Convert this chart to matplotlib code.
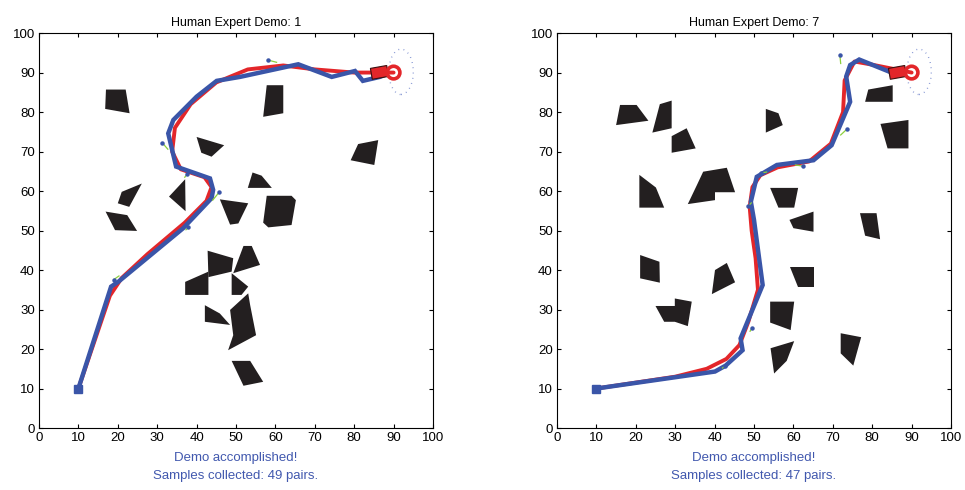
import matplotlib
matplotlib.use("Agg")
import matplotlib.pyplot as plt
from matplotlib.patches import Polygon, Circle, Ellipse, Rectangle

plt.rcParams["font.family"] = ["Liberation Sans", "DejaVu Sans"]

# ---- data: demo 1 ----
demo1_obstacles = [
    [(17, 85.7), (22, 85.7), (23, 79.7), (16.8, 80.8)],
    [(40.0, 73.7), (47.0, 71.6), (43.8, 68.7), (41.2, 69.7)],
    [(21.0, 59.8), (26.1, 61.9), (22.9, 56.0), (20.0, 56.9)],
    [(37.1, 63.0), (37.2, 54.9), (33.0, 58.6)],
    [(16.9, 54.8), (22.4, 53.9), (24.9, 49.9), (19.3, 50.1)],
    [(45.9, 57.9), (53.1, 56.9), (50.6, 51.8), (48.5, 51.5)],
    [(57.8, 86.8), (62.0, 86.8), (62.0, 79.7), (56.9, 78.8)],
    [(81.0, 71.9), (86.1, 72.9), (85.1, 66.6), (79.1, 67.8)],
    [(54.2, 64.7), (56.5, 63.9), (59.1, 60.8), (53.0, 60.8)],
    [(57.8, 58.8), (64.1, 58.8), (65.2, 57.7), (64.1, 51.4), (58.2, 50.8), (56.9, 52.0)],
    [(42.8, 44.9), (49.3, 43.0), (48.9, 39.6), (43.0, 38.2)],
    [(37.1, 37.0), (43.0, 39.6), (43.0, 33.7), (37.1, 33.7)],
    [(51.9, 46.1), (54.0, 46.1), (56.1, 41.3), (49.3, 39.2)],
    [(48.9, 39.2), (53.1, 35.8), (51.4, 33.7), (48.9, 33.7)],
    [(42.1, 31.1), (45.9, 29.0), (48.5, 26.1), (42.1, 26.9)],
    [(48.5, 29.9), (53.1, 34.1), (53.6, 31.1), (55.1, 23.5), (48.0, 19.7), (49.3, 23.5)],
    [(48.9, 17.0), (53.6, 17.0), (56.9, 11.7), (51.9, 10.7)],
]
demo1_blue_x = [10, 18.3, 20.1, 36.6, 43.8, 44.2, 43.4, 34.8, 32.8, 34.1, 40.0, 45.1, 51.0, 65.8, 74.3, 80.2, 82.2, 86.5, 88.0]
demo1_blue_y = [10, 35.8, 37.0, 50.6, 58.2, 60.3, 63.2, 66.2, 74.6, 78.0, 83.9, 87.9, 88.9, 92.1, 88.9, 90.4, 87.9, 88.9, 89.5]
demo1_red_x = [10, 18.0, 21.0, 27.5, 37.0, 42.5, 43.8, 42.0, 36.0, 33.8, 34.5, 38.5, 45.0, 53.0, 62.0, 70.0, 80.0, 90.0]
demo1_red_y = [10, 33.5, 38.0, 44.0, 52.0, 57.5, 61.0, 63.5, 65.5, 70.0, 76.0, 82.0, 87.5, 90.8, 91.8, 90.8, 90.0, 90.0]
demo1_hint_dots = [(31.3, 72.2), (45.8, 59.8), (37.6, 64.3), (37.9, 50.8), (58.0, 93.2), (19.0, 37.6)]
demo1_hint_ends = [(32.7, 70.6), (44.1, 57.7), (37.0, 63.5), (37.3, 50.2), (60.3, 92.6), (20.3, 38.5)]

# ---- data: demo 7 ----
demo7_obstacles = [
    [(16.0, 81.8), (20.2, 81.8), (23.2, 77.8), (15.0, 76.7)],
    [(26.1, 82.0), (29.1, 82.9), (29.1, 75.9), (24.2, 74.8)],
    [(29.1, 73.9), (32.9, 75.9), (35.2, 70.8), (29.1, 69.7)],
    [(20.9, 64.1), (25.1, 60.9), (27.2, 55.8), (20.9, 55.8)],
    [(37.1, 64.9), (43.1, 65.9), (45.2, 59.7), (40.1, 59.7), (40.1, 57.7), (33.2, 56.7), (35.5, 61.5)],
    [(53.0, 80.8), (56.2, 79.7), (57.3, 76.7), (53.0, 74.8)],
    [(79.0, 85.7), (85.2, 86.8), (85.2, 82.6), (78.2, 82.6)],
    [(82.1, 77.0), (89.2, 78.0), (89.2, 70.8), (83.9, 70.8)],
    [(54.1, 60.8), (61.2, 60.8), (60.2, 55.8), (56.2, 55.8)],
    [(59.0, 52.7), (65.1, 54.8), (65.1, 49.7), (60.0, 50.6)],
    [(76.9, 54.4), (81.1, 54.4), (82.0, 47.8), (78.2, 48.7)],
    [(59.1, 40.8), (65.2, 40.8), (65.2, 35.8), (61.2, 35.8)],
    [(54.1, 32.0), (60.2, 32.0), (59.3, 24.8), (54.1, 26.7)],
    [(54.2, 20.2), (60.2, 22.0), (58.3, 17.0), (55.1, 13.8)],
    [(72.0, 24.0), (77.2, 23.0), (75.2, 15.8), (72.0, 18.9)],
    [(21.1, 43.8), (26.0, 42.1), (26.1, 36.8), (21.1, 37.9)],
    [(40.1, 40.0), (43.1, 41.8), (45.2, 36.9), (39.3, 33.9)],
    [(25.0, 30.9), (29.9, 30.9), (29.9, 32.8), (34.2, 32.0), (33.2, 25.8), (29.9, 26.9), (27.2, 26.9)],
]
demo7_blue_x = [10, 40.1, 42.8, 47.1, 46.6, 52.2, 50.0, 49.2, 50.7, 55.8, 65.1, 69.7, 74.4, 73.4, 74.4, 76.7, 85.4, 87.5]
demo7_blue_y = [10, 14.3, 15.8, 19.7, 22.7, 36.2, 52.7, 57.3, 63.6, 66.6, 67.8, 71.6, 82.6, 89.0, 91.9, 93.3, 89.8, 89.9]
demo7_red_x = [10, 30.0, 38.0, 43.0, 46.3, 48.6, 51.0, 50.4, 49.4, 48.9, 49.6, 51.6, 56.0, 64.0, 69.5, 72.6, 73.0, 75.5, 80.0, 90.0]
demo7_red_y = [10, 13.0, 15.0, 17.5, 21.0, 27.0, 35.0, 43.0, 50.0, 56.0, 61.0, 64.0, 66.0, 67.5, 72.0, 80.0, 88.0, 92.8, 92.0, 90.0]
demo7_hint_dots = [(71.8, 94.4), (73.5, 75.6), (62.5, 66.3), (51.7, 64.6), (48.6, 56.2), (42.6, 15.7), (49.4, 25.2)]
demo7_hint_ends = [(72.0, 92.3), (72.0, 74.2), (60.5, 66.6), (53.2, 64.8), (49.3, 57.0), (42.0, 15.2), (49.0, 24.5)]

panels = [
    ("Human Expert Demo: 1", demo1_obstacles, demo1_red_x, demo1_red_y,
     demo1_blue_x, demo1_blue_y, demo1_hint_dots, demo1_hint_ends, 49),
    ("Human Expert Demo: 7", demo7_obstacles, demo7_red_x, demo7_red_y,
     demo7_blue_x, demo7_blue_y, demo7_hint_dots, demo7_hint_ends, 47),
]

goal = (90, 90)
start = (10, 10)
blue = "#3a55a8"
red = "#e3262a"

fig = plt.figure(figsize=(9.65, 4.9), dpi=100)
lefts = [0.0404, 0.5772]

for left, (title, obs, rx, ry, bx, by, dots, ends, n_pairs) in zip(lefts, panels):
    ax = fig.add_axes([left, 0.1265, 0.4083, 0.806])

    for verts in obs:
        ax.add_patch(Polygon(verts, closed=True, facecolor="#231f20", edgecolor="none"))

    ax.plot(rx, ry, color=red, linewidth=2.8, solid_capstyle="round", zorder=3)
    ax.plot(bx, by, color=blue, linewidth=3.2, solid_joinstyle="miter", zorder=4)

    for (dx, dy), (ex, ey) in zip(dots, ends):
        ax.plot([dx, ex], [dy, ey], color="#8ccf3c", linewidth=0.9, zorder=5)
        ax.plot(dx, dy, "o", color=blue, markersize=2.2, zorder=6)

    ax.plot(start[0], start[1], "s", color=blue, markersize=6, zorder=6)

    ax.add_patch(Ellipse((goal[0] + 1.9, goal[1] + 0.2), 6.2, 11.5, fill=False,
                         edgecolor="#7d8fd0", linestyle=(0, (0.6, 3.2)), linewidth=1.0, zorder=2))
    ax.add_patch(Rectangle((goal[0] - 5.4, goal[1] - 1.7), 4.2, 2.8, angle=10,
                           facecolor=red, edgecolor="#3a1010", linewidth=0.8, zorder=7))
    ax.add_patch(Circle(goal, 1.6, fill=False, edgecolor=red, linewidth=2.6, zorder=8))

    ax.set_xlim(0, 100)
    ax.set_ylim(0, 100)
    ax.set_xticks(range(0, 101, 10))
    ax.set_yticks(range(0, 101, 10))
    ax.tick_params(direction="in", top=True, right=True, labelsize=9.5, length=3, pad=3)
    ax.set_title(title, fontsize=9, pad=5)

    fig.text(left + 0.4083 / 2, 0.059, "Demo accomplished!", ha="center",
             color="#4158ae", fontsize=9.5)
    fig.text(left + 0.4083 / 2, 0.022, "Samples collected: %d pairs." % n_pairs,
             ha="center", color="#4158ae", fontsize=9.5)

plt.savefig("out.png", dpi=100)
